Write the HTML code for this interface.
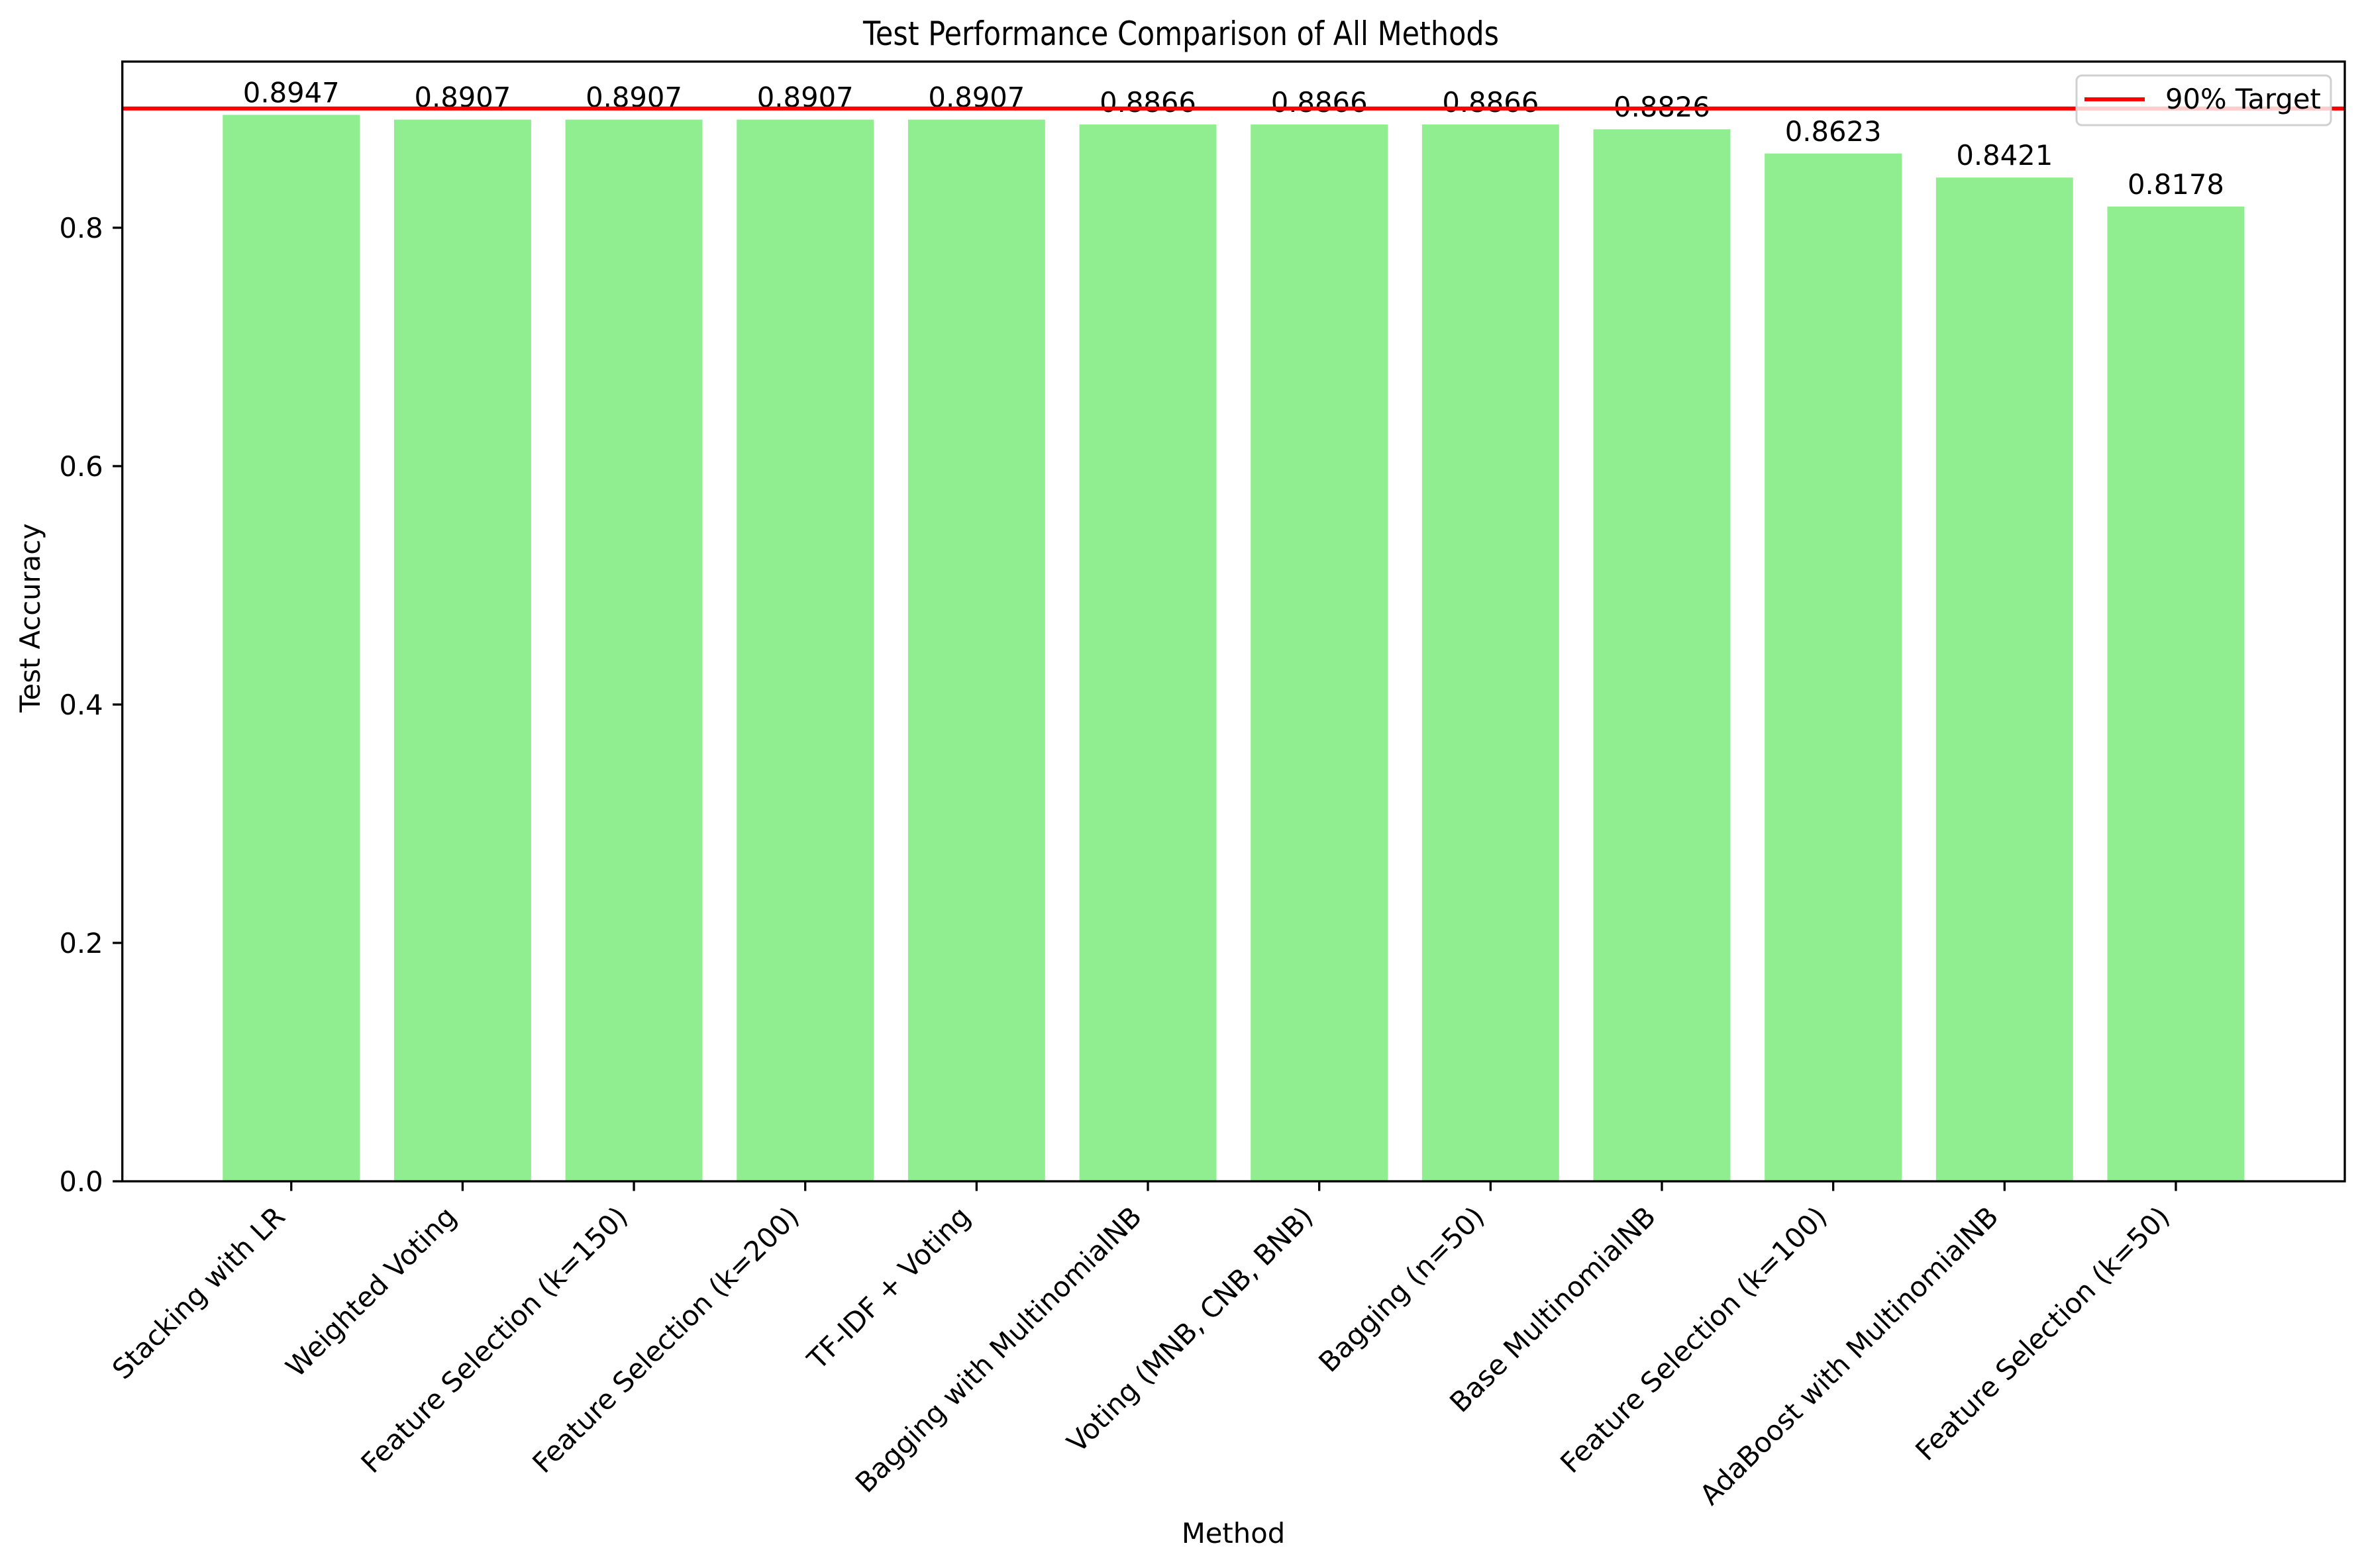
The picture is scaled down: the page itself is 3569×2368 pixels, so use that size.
<!DOCTYPE html>
<html><head><meta charset="utf-8"><style>
html,body{margin:0;padding:0;background:#fff;}
svg{display:block;font-family:"DejaVu Sans","Liberation Sans",sans-serif;}
</style></head><body>
<svg id="chart" width="3569" height="2368" viewBox="0 0 3569 2368" xmlns="http://www.w3.org/2000/svg">
<rect x="0" y="0" width="3569" height="2368" fill="#fff"/>
<text x="1303" y="68" font-size="50" textLength="960" lengthAdjust="spacingAndGlyphs">Test Performance Comparison of All Methods</text>
<text transform="translate(60,933) rotate(-90)" text-anchor="middle" font-size="41.7">Test Accuracy</text>
<text x="1862" y="2330" text-anchor="middle" font-size="41.7">Method</text>
<g id="bars"></g>
<g id="labels"></g>
<g id="yticks"></g>
<g id="xticks"></g>
<line id="target" x1="184.7" x2="3540" stroke="#ff0000" stroke-width="6"/>
<rect x="184.7" y="93" width="3355.3" height="1691" fill="none" stroke="#000" stroke-width="3.3"/>
<g>
<rect x="3135" y="114" width="384" height="75" rx="8" fill="#fff" fill-opacity="0.8" stroke="#d0d0d0" stroke-width="3"/>
<line x1="3147" x2="3238" y1="150" y2="150" stroke="#ff0000" stroke-width="6"/>
<text x="3269" y="164" font-size="41.7">90% Target</text>
</g>
</svg>
<script>
const categories = ["Stacking with LR","Weighted Voting","Feature Selection (k=150)","Feature Selection (k=200)","TF-IDF + Voting","Bagging with MultinomialNB","Voting (MNB, CNB, BNB)","Bagging (n=50)","Base MultinomialNB","Feature Selection (k=100)","AdaBoost with MultinomialNB","Feature Selection (k=50)"];
const accuracies = [0.8947,0.8907,0.8907,0.8907,0.8907,0.8866,0.8866,0.8866,0.8826,0.8623,0.8421,0.8178];
const yTickValues = [0.0,0.2,0.4,0.6,0.8];
const yTickLabels = ["0.0","0.2","0.4","0.6","0.8"];
const targetValue = 0.9;

const NS = "http://www.w3.org/2000/svg";
const axL = 184.7, axR = 3540, axT = 93, axB = 1784;
const xMin = -0.986, xMax = 11.986;
const yMax = 0.9394;
const xScale = v => axL + (v - xMin) / (xMax - xMin) * (axR - axL);
const yScale = v => axB - v / yMax * (axB - axT);
function mk(tag, attrs, parent){const e=document.createElementNS(NS,tag);for(const k in attrs)e.setAttribute(k,attrs[k]);parent.appendChild(e);return e;}

const bars = document.getElementById('bars');
const labels = document.getElementById('labels');
const xt = document.getElementById('xticks');
const yt = document.getElementById('yticks');
const bw = 0.8;
accuracies.forEach((v,i)=>{
  const x0 = xScale(i - bw/2), x1 = xScale(i + bw/2);
  const r = mk('rect',{x:x0,y:yScale(v),width:x1-x0,height:axB-yScale(v),fill:'#90ee90'},bars);
  
  
  const t = mk('text',{x:xScale(i),y:yScale(v+0.005)-10,'text-anchor':'middle','font-size':41.7},labels);
  t.textContent = v.toFixed(4);
  
  
  const cx = xScale(i);
  const tk = mk('line',{x1:cx,x2:cx,y1:axB,y2:axB+14.6,stroke:'#000','stroke-width':3.3},xt);
  
  
  const ex = cx - 7, ey = axB + 56;
  const lt = mk('text',{x:ex,y:ey,'text-anchor':'end','font-size':41.7,transform:'rotate(-45 '+ex+' '+ey+')'},xt);
  lt.textContent = categories[i];
  
  
});
yTickValues.forEach((v,i)=>{
  const y = yScale(v);
  const tk = mk('line',{x1:axL-14.6,x2:axL,y1:y,y2:y,stroke:'#000','stroke-width':3.3},yt);
  
  
  const t = mk('text',{x:axL-29,y:y+15,'text-anchor':'end','font-size':41.7},yt);
  t.textContent = yTickLabels[i];
  
  
});
const tl = document.getElementById('target');
tl.setAttribute('y1', yScale(targetValue));
tl.setAttribute('y2', yScale(targetValue));
</script>
</body></html>
